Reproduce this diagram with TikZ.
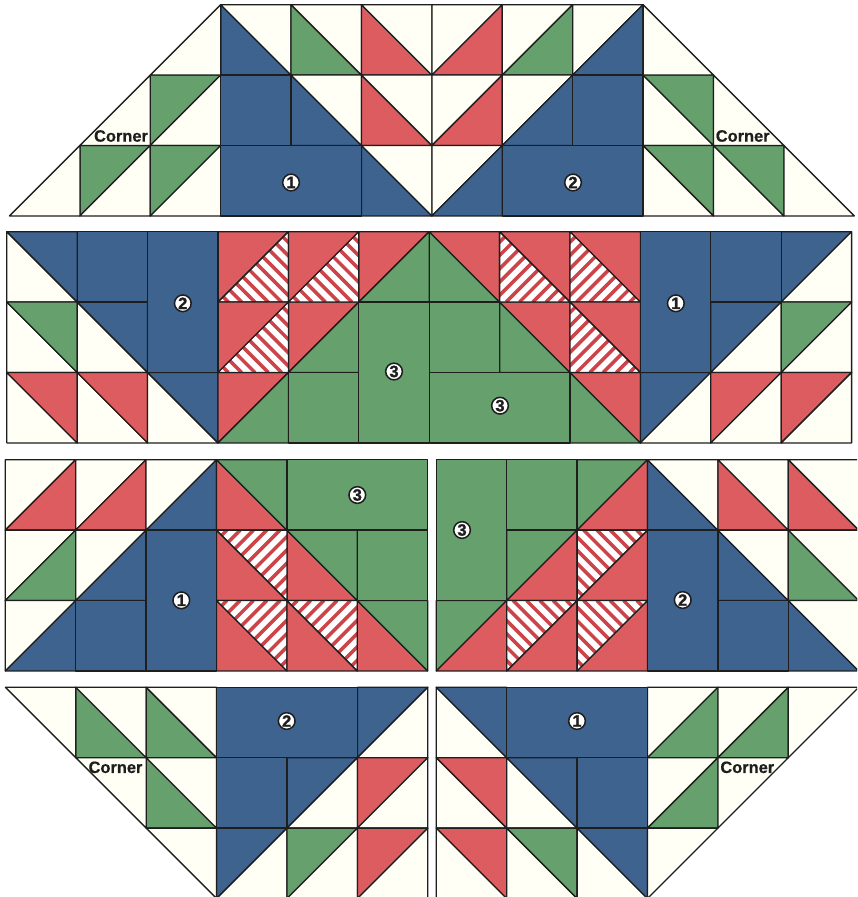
\documentclass[tikz,border=0pt]{standalone}
\usepackage{fontspec}
\setmainfont{Liberation Sans}
\newfontfamily\cornerfont[FakeBold=0.6]{Liberation Sans Bold}
\newfontfamily\badgefont[FakeBold=1.4]{Liberation Sans Bold}
\usepackage{tikz}
\definecolor{QuiltBlue}{RGB}{62, 99, 143}
\definecolor{QuiltGreen}{RGB}{101, 160, 109}
\definecolor{QuiltRed}{RGB}{220, 92, 96}
\definecolor{QuiltStripe}{RGB}{204, 68, 74}
\definecolor{QuiltCream}{RGB}{255, 255, 245}
\definecolor{QuiltLine}{RGB}{30, 30, 30}
\def\cw{70.4}
% one triangle: column, row, corner (a,b) of the right angle, colour
\newcommand{\tri}[5]{\filldraw[patch, fill=#5] ({(#1+#3)*\cw},{(#2+#4)*\cw}) -- ({(#1+1-#3)*\cw},{(#2+#4)*\cw}) -- ({(#1+#3)*\cw},{(#2+1-#4)*\cw}) -- cycle;}
\newcommand{\cellup}[4]{\tri{#1}{#2}{0}{0}{#3}\tri{#1}{#2}{1}{1}{#4}}
\newcommand{\celldn}[4]{\tri{#1}{#2}{0}{1}{#3}\tri{#1}{#2}{1}{0}{#4}}
\newcommand{\block}[5]{\filldraw[patch, fill=#5] ({#1*\cw},{#2*\cw}) rectangle ({(#1+#3)*\cw},{(#2+#4)*\cw});}
% striped triangles, stripes square to the long side
\newcommand{\hatchup}[3]{%
  \begin{scope}
    \fill[white] ({(#1+#3)*\cw},{(#2+#3)*\cw}) -- ({(#1+1-#3)*\cw},{(#2+#3)*\cw}) -- ({(#1+#3)*\cw},{(#2+1-#3)*\cw}) -- cycle;
    \clip ({(#1+#3)*\cw},{(#2+#3)*\cw}) -- ({(#1+1-#3)*\cw},{(#2+#3)*\cw}) -- ({(#1+#3)*\cw},{(#2+1-#3)*\cw}) -- cycle;
    \foreach \t in {-6,...,5} \draw[stripe] ({#1*\cw+6.5+\t*13.3},{#2*\cw}) -- ++(\cw,\cw);
  \end{scope}
  \draw[patch] ({(#1+#3)*\cw},{(#2+#3)*\cw}) -- ({(#1+1-#3)*\cw},{(#2+#3)*\cw}) -- ({(#1+#3)*\cw},{(#2+1-#3)*\cw}) -- cycle;}
\newcommand{\hatchdn}[3]{%
  \begin{scope}
    \fill[white] ({(#1+#3)*\cw},{(#2+1-#3)*\cw}) -- ({(#1+1-#3)*\cw},{(#2+1-#3)*\cw}) -- ({(#1+#3)*\cw},{(#2+#3)*\cw}) -- cycle;
    \clip ({(#1+#3)*\cw},{(#2+1-#3)*\cw}) -- ({(#1+1-#3)*\cw},{(#2+1-#3)*\cw}) -- ({(#1+#3)*\cw},{(#2+#3)*\cw}) -- cycle;
    \foreach \t in {-6,...,5} \draw[stripe] ({#1*\cw+6.5+\t*13.3},{(#2+1)*\cw}) -- ++(\cw,-\cw);
  \end{scope}
  \draw[patch] ({(#1+#3)*\cw},{(#2+1-#3)*\cw}) -- ({(#1+1-#3)*\cw},{(#2+1-#3)*\cw}) -- ({(#1+#3)*\cw},{(#2+#3)*\cw}) -- cycle;}

\begin{document}
\begin{tikzpicture}[
    x=0.03cm, y=-0.03cm,
    patch/.style={draw=QuiltLine, line width=1.1pt, line join=round},
    stripe/.style={draw=QuiltStripe, line width=3pt},
    corner/.style={font=\fontsize{14}{15}\selectfont\cornerfont, text=QuiltLine, inner sep=0pt},
    badge/.style={circle, draw=QuiltLine, fill=white, line width=1.3pt, inner sep=0pt, minimum size=0.5cm, font=\fontsize{14}{15}\selectfont\badgefont, text=QuiltLine}
  ]
    \path[use as bounding box] (0,0) rectangle (857,897);
    \clip (0,0) rectangle (857,897);

    % Top band
    \begin{scope}[shift={(9.5,4.7)}]
      \foreach \c/\r/\a/\b in {3/0/QuiltBlue/QuiltCream, 4/0/QuiltGreen/QuiltCream, 5/0/QuiltRed/QuiltCream, 4/1/QuiltBlue/QuiltCream, 5/1/QuiltRed/QuiltCream, 5/2/QuiltBlue/QuiltCream, 9/1/QuiltCream/QuiltGreen, 9/2/QuiltCream/QuiltGreen, 10/2/QuiltCream/QuiltGreen}
        {\celldn{\c}{\r}{\a}{\b}}
      \foreach \c/\r/\a/\b in {2/1/QuiltGreen/QuiltCream, 1/2/QuiltGreen/QuiltCream, 2/2/QuiltGreen/QuiltCream, 6/0/QuiltCream/QuiltRed, 7/0/QuiltCream/QuiltGreen, 8/0/QuiltCream/QuiltBlue, 6/1/QuiltCream/QuiltRed, 7/1/QuiltCream/QuiltBlue, 6/2/QuiltCream/QuiltBlue}
        {\cellup{\c}{\r}{\a}{\b}}
      \foreach \c/\r in {2/0, 1/1, 0/2} {\tri{\c}{\r}{1}{1}{QuiltCream}}
      \foreach \c/\r in {9/0, 10/1, 11/2} {\tri{\c}{\r}{0}{1}{QuiltCream}}
      \block{3}{1}{1}{1}{QuiltBlue}
      \block{8}{1}{1}{1}{QuiltBlue}
      \block{3}{2}{2}{1}{QuiltBlue}
      \block{7}{2}{2}{1}{QuiltBlue}
    \end{scope}

    % Second band
    \begin{scope}[shift={(6.8,231.7)}]
      \foreach \c/\r/\a/\b in {0/0/QuiltCream/QuiltBlue, 0/1/QuiltCream/QuiltGreen, 1/1/QuiltCream/QuiltBlue, 0/2/QuiltCream/QuiltRed, 1/2/QuiltCream/QuiltRed, 2/2/QuiltCream/QuiltBlue, 6/0/QuiltGreen/QuiltRed, 7/1/QuiltGreen/QuiltRed, 8/2/QuiltGreen/QuiltRed}
        {\celldn{\c}{\r}{\a}{\b}}
      \foreach \c/\r/\a/\b in {5/0/QuiltRed/QuiltGreen, 4/1/QuiltRed/QuiltGreen, 3/2/QuiltRed/QuiltGreen, 11/0/QuiltBlue/QuiltCream, 10/1/QuiltBlue/QuiltCream, 11/1/QuiltGreen/QuiltCream, 9/2/QuiltBlue/QuiltCream, 10/2/QuiltRed/QuiltCream, 11/2/QuiltRed/QuiltCream}
        {\cellup{\c}{\r}{\a}{\b}}
      \foreach \c/\r in {3/0, 4/0, 3/1} {\tri{\c}{\r}{0}{0}{QuiltRed}\hatchup{\c}{\r}{1}}
      \foreach \c/\r in {7/0, 8/0, 8/1} {\tri{\c}{\r}{1}{0}{QuiltRed}\hatchdn{\c}{\r}{0}}
      \block{1}{0}{1}{1}{QuiltBlue}
      \block{2}{0}{1}{2}{QuiltBlue}
      \block{5}{1}{1}{2}{QuiltGreen}
      \block{4}{2}{1}{1}{QuiltGreen}
      \block{6}{1}{1}{1}{QuiltGreen}
      \block{6}{2}{2}{1}{QuiltGreen}
      \block{9}{0}{1}{2}{QuiltBlue}
      \block{10}{0}{1}{1}{QuiltBlue}
    \end{scope}

    % Third band, left
    \begin{scope}[shift={(5.3,459.7)}]
      \foreach \c/\r/\a/\b in {0/0/QuiltCream/QuiltRed, 1/0/QuiltCream/QuiltRed, 2/0/QuiltCream/QuiltBlue, 0/1/QuiltCream/QuiltGreen, 1/1/QuiltCream/QuiltBlue, 0/2/QuiltCream/QuiltBlue}
        {\cellup{\c}{\r}{\a}{\b}}
      \foreach \c/\r/\a/\b in {3/0/QuiltRed/QuiltGreen, 4/1/QuiltRed/QuiltGreen, 5/2/QuiltRed/QuiltGreen}
        {\celldn{\c}{\r}{\a}{\b}}
      \foreach \c/\r in {3/1, 3/2, 4/2} {\tri{\c}{\r}{0}{1}{QuiltRed}\hatchdn{\c}{\r}{1}}
      \block{4}{0}{2}{1}{QuiltGreen}
      \block{5}{1}{1}{1}{QuiltGreen}
      \block{2}{1}{1}{2}{QuiltBlue}
      \block{1}{2}{1}{1}{QuiltBlue}
    \end{scope}

    % Third band, right
    \begin{scope}[shift={(436.3,459.7)}]
      \foreach \c/\r/\a/\b in {2/0/QuiltGreen/QuiltRed, 1/1/QuiltGreen/QuiltRed, 0/2/QuiltGreen/QuiltRed}
        {\cellup{\c}{\r}{\a}{\b}}
      \foreach \c/\r/\a/\b in {3/0/QuiltBlue/QuiltCream, 4/0/QuiltRed/QuiltCream, 5/0/QuiltRed/QuiltCream, 4/1/QuiltBlue/QuiltCream, 5/1/QuiltGreen/QuiltCream, 5/2/QuiltBlue/QuiltCream}
        {\celldn{\c}{\r}{\a}{\b}}
      \foreach \c/\r in {2/1, 1/2, 2/2} {\tri{\c}{\r}{1}{1}{QuiltRed}\hatchup{\c}{\r}{0}}
      \block{0}{0}{1}{2}{QuiltGreen}
      \block{1}{0}{1}{1}{QuiltGreen}
      \block{3}{1}{1}{2}{QuiltBlue}
      \block{4}{2}{1}{1}{QuiltBlue}
    \end{scope}

    % Bottom band, left
    \begin{scope}[shift={(5.4,687.3)}]
      \foreach \c/\r/\a/\b in {1/0/QuiltGreen/QuiltCream, 2/0/QuiltGreen/QuiltCream, 2/1/QuiltGreen/QuiltCream}
        {\celldn{\c}{\r}{\a}{\b}}
      \foreach \c/\r/\a/\b in {5/0/QuiltBlue/QuiltCream, 4/1/QuiltBlue/QuiltCream, 5/1/QuiltRed/QuiltCream, 3/2/QuiltBlue/QuiltCream, 4/2/QuiltGreen/QuiltCream, 5/2/QuiltRed/QuiltCream}
        {\cellup{\c}{\r}{\a}{\b}}
      \foreach \c/\r in {0/0, 1/1, 2/2} {\tri{\c}{\r}{1}{0}{QuiltCream}}
      \block{3}{0}{2}{1}{QuiltBlue}
      \block{3}{1}{1}{1}{QuiltBlue}
    \end{scope}

    % Bottom band, right
    \begin{scope}[shift={(436.3,687.3)}]
      \foreach \c/\r/\a/\b in {0/0/QuiltCream/QuiltBlue, 0/1/QuiltCream/QuiltRed, 1/1/QuiltCream/QuiltBlue, 0/2/QuiltCream/QuiltRed, 1/2/QuiltCream/QuiltGreen, 2/2/QuiltCream/QuiltBlue}
        {\celldn{\c}{\r}{\a}{\b}}
      \foreach \c/\r/\a/\b in {3/0/QuiltCream/QuiltGreen, 4/0/QuiltCream/QuiltGreen, 3/1/QuiltCream/QuiltGreen}
        {\cellup{\c}{\r}{\a}{\b}}
      \foreach \c/\r in {5/0, 4/1, 3/2} {\tri{\c}{\r}{0}{0}{QuiltCream}}
      \block{1}{0}{2}{1}{QuiltBlue}
      \block{2}{1}{1}{1}{QuiltBlue}
    \end{scope}

    % Labels
    \node[corner] (cornerTL) at (121,136) {Corner};
    \node[corner] (cornerTR) at (742.7,136) {Corner};
    \node[corner] (cornerBL) at (115.5,767.3) {Corner};
    \node[corner] (cornerBR) at (747.3,767.3) {Corner};
    \node[badge] (oneA) at (291,182.5) {1};
    \node[badge] (twoA) at (573,182.5) {2};
    \node[badge] (twoB) at (182.8,303.3) {2};
    \node[badge] (threeB) at (394,371.5) {3};
    \node[badge] (threeC) at (500,405.7) {3};
    \node[badge] (oneB) at (675.8,303.3) {1};
    \node[badge] (threeD) at (357.3,495) {3};
    \node[badge] (oneC) at (181.3,600.3) {1};
    \node[badge] (threeE) at (462,530) {3};
    \node[badge] (twoC) at (682.7,600) {2};
    \node[badge] (twoD) at (286.7,721) {2};
    \node[badge] (oneD) at (577,721) {1};
  \end{tikzpicture}
\end{document}
